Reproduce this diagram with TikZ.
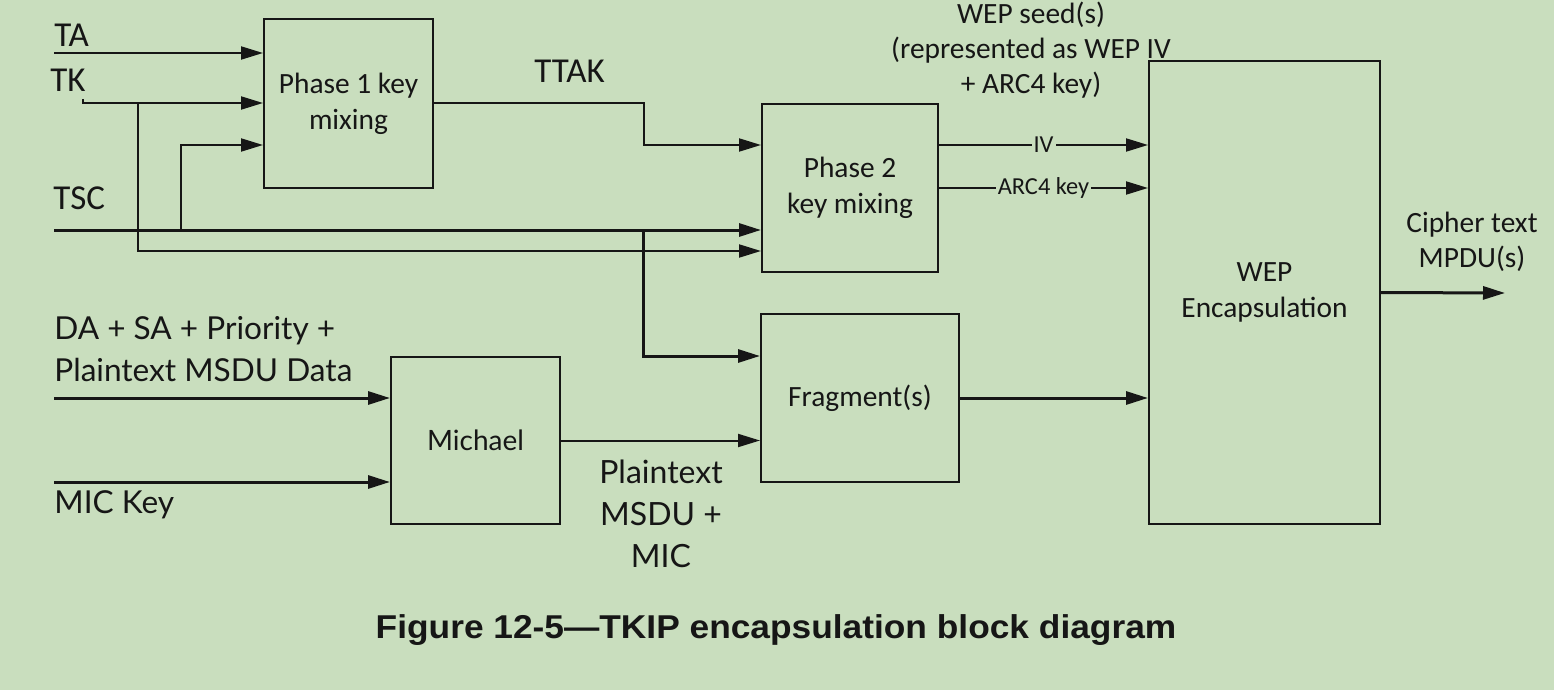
\documentclass[tikz,border=0pt]{standalone}
\usepackage{fontspec}
\setmainfont{Carlito}
\newfontfamily\latofont{Lato}
\newfontfamily\capfont[FakeStretch=1.07]{Liberation Sans}
\usetikzlibrary{arrows.meta,positioning}
\definecolor{bggreen}{RGB}{201,222,190}
\definecolor{ink}{RGB}{22,22,22}

\begin{document}
\begin{tikzpicture}[x=0.5pt, y=-0.5pt,
  block/.style={draw=ink, line width=1pt, align=center, inner sep=0pt, text=ink, font=\fontsize{14.7}{18}\selectfont},
  wire/.style={draw=ink, line width=1pt},
  bus/.style={draw=ink, line width=1.5pt},
  arr/.style={-{Triangle[length=11pt,width=6.5pt]}},
  sig/.style={inner sep=0pt, text=ink, font=\fontsize{17.5}{21}\selectfont},
  lato/.style={inner sep=0pt, text=ink, font=\latofont\fontsize{15.8}{21}\selectfont},
  seg/.style={inner sep=1pt, fill=bggreen, text=ink, font=\fontsize{12.2}{14}\selectfont},
  note/.style={inner sep=0pt, align=center, text=ink, font=\fontsize{14.7}{17.5}\selectfont}
]
\fill[bggreen] (0,0) rectangle (1554,690);
\useasboundingbox (0,0) rectangle (1554,690);

% blocks
\node[block, minimum width=84.5pt, minimum height=84.5pt] (p1) at (348.5,103.5) {Phase 1 key\\mixing};
\node[block, minimum width=88pt, minimum height=84pt] (p2) at (850,188) {Phase 2\\key mixing};
\node[block, minimum width=99pt, minimum height=84pt] (frag) at (860,398) {Fragment(s)};
\node[block, minimum width=84.5pt, minimum height=83.5pt, font=\latofont\fontsize{14}{17}\selectfont] (mich) at (475.5,440.5) {Michael};
\node[block, minimum width=115.5pt, minimum height=231.5pt] (wep) at (1264.5,292.5) {WEP\\Encapsulation};

% inputs and junctions
\coordinate (ta) at (54,53);
\coordinate (tk) at (83,103);
\coordinate (tsc) at (54,230);
\coordinate (da) at (54,398);
\coordinate (mic) at (54,482);
\coordinate (out) at (1505,293);
\coordinate (jtk) at (138,103);
\coordinate (jtsc) at (181,230);
\coordinate (jfrag) at (643,230);

% labels
\node[sig, anchor=base west] at (54,47) {TA};
\node[sig, anchor=base west] at (50,92) {TK};
\node[sig, anchor=base west] at (53,210) {TSC};
\node[sig, anchor=base west] at (534,83) {TTAK};
\node[lato, anchor=north west, align=left] at (54,316) {DA + SA + Priority +\\Plaintext MSDU Data};
\node[lato, anchor=base west] at (54,513) {MIC Key};
\node[note, anchor=north, font=\latofont\fontsize{16}{21}\selectfont] at (661,460) {Plaintext\\MSDU +\\MIC};
\node[note, anchor=north] at (1031,2) {WEP seed(s)\\(represented as WEP IV\\+ ARC4 key)};
\node[note, anchor=north] at (1472,212) {Cipher text\\MPDU(s)};
\node[inner sep=0pt, text=ink, anchor=base, font=\capfont\bfseries\fontsize{16.5}{19}\selectfont] at (776,638) {Figure 12-5—TKIP encapsulation block diagram};

% connectors
\draw[wire,arr] (ta) -- (ta -| p1.west);
\draw[wire,arr] ([yshift=2pt]tk) -- (tk) -- (tk -| p1.west);
\draw[wire,arr] (jtk) |- ([yshift=-31.5pt]p2.west);
\draw[bus,arr] (tsc) -- (tsc -| p2.west);
\draw[wire,arr] (jtsc) |- ([yshift=-20.75pt]p1.west);
\draw[wire,arr] (p1.east) -- ++(210,0) |- ([yshift=21.5pt]p2.west);
\draw[bus,arr] (jfrag) |- ([yshift=21pt]frag.west);
\draw[wire,arr] ([yshift=21.5pt]p2.east) coordinate (ivs) -- node[seg]{IV} (ivs -| wep.west);
\draw[wire,arr] (p2.east) -- node[seg]{ARC4 key} (p2.east -| wep.west);
\draw[bus,arr] (da) -- (da -| mich.west);
\draw[bus,arr] (mic) -- (mic -| mich.west);
\draw[wire,arr] (mich.east) -- (mich.east -| frag.west);
\draw[bus,arr] (frag.east) -- (frag.east -| wep.west);
\draw[bus,arr] (wep.east) -- (out);
\end{tikzpicture}
\end{document}
